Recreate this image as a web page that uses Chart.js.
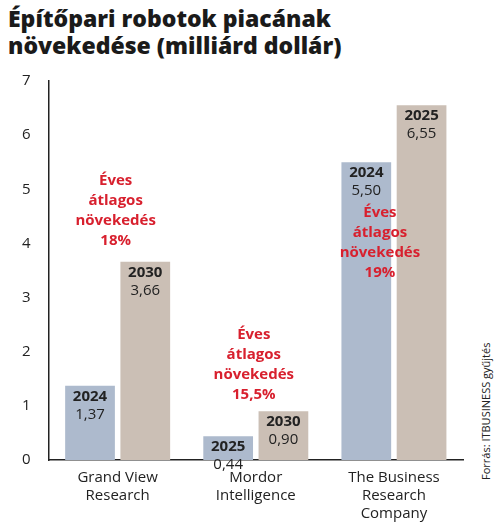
<!DOCTYPE html>
<html><head><meta charset="utf-8">
<script src="https://cdn.jsdelivr.net/npm/chart.js@4"></script>
<style>
body{margin:0;background:#fff;font-family:"Open Sans",sans-serif;}
h1{margin:0;position:absolute;left:8px;top:5px;font-size:23px;line-height:27px;font-weight:800;color:#1a1a1a;}
#wrap{position:absolute;left:0;top:62px;width:475px;height:462px;}
#src{position:absolute;left:478px;top:480px;transform-origin:0 0;transform:rotate(-90deg);font-size:11px;color:#222;white-space:nowrap;}
</style></head><body>
<h1>Építőpari robotok piacának<br>növekedése (milliárd dollár)</h1>
<div id="wrap"><canvas id="c"></canvas></div>
<div id="src">Forrás: ITBUSINESS gyűjtés</div>
<script>
const categories=[["Grand View","Research"],["Mordor","Intelligence"],["The Business","Research","Company"]];
const valuesA=[1.37,0.44,5.50];
const valuesB=[3.66,0.90,6.55];
const yearsA=["2024","2025","2024"];
const yearsB=["2030","2030","2025"];
const growth=["18%","15,5%","19%"];
const growthY=[5.3,2.45,4.7];
const yTicks=[0,1,2,3,4,5,6,7];
const fmt=v=>v.toFixed(2).replace('.',',');
const labels={id:'labels',afterDatasetsDraw(ch){
 const ctx=ch.ctx;ctx.save();ctx.textAlign='center';ctx.textBaseline='top';
 [[0,yearsA,valuesA],[1,yearsB,valuesB]].forEach(([d,yrs,vals])=>{
  ch.getDatasetMeta(d).data.forEach((b,i)=>{
   ctx.fillStyle='#222';ctx.font='bold 15px "Open Sans"';ctx.fillText(yrs[i],b.x,b.y+3);
   ctx.font='15px "Open Sans"';ctx.fillText(fmt(vals[i]),b.x,b.y+21);
  });});
 const y=ch.scales.y,x=ch.scales.x;
 ctx.fillStyle='#d8202e';ctx.font='bold 15px "Open Sans"';
 growth.forEach((g,i)=>{const cx=x.getPixelForValue(i)-(i==2?14:2);const ty=y.getPixelForValue(growthY[i]);
  ["Éves","átlagos","növekedés",g].forEach((t,k)=>ctx.fillText(t,cx,ty+k*20));});
 ctx.restore();}};
new Chart(document.getElementById('c'),{type:'bar',
 data:{labels:categories,datasets:[
  {data:valuesA,backgroundColor:'#adbacd'},
  {data:valuesB,backgroundColor:'#cbbfb5'}]},
 options:{responsive:true,maintainAspectRatio:false,animation:false,
  layout:{padding:{top:10,right:12,left:12}},
  plugins:{legend:{display:false},tooltip:{enabled:false}},
  datasets:{bar:{categoryPercentage:0.8,barPercentage:0.9}},
  scales:{
   x:{grid:{display:false},border:{color:'#222',width:1.5},ticks:{color:'#222',padding:1,font:{size:15,family:'"Open Sans"',lineHeight:1.2}}},
   y:{min:0,max:7,afterBuildTicks:a=>{a.ticks=yTicks.map(v=>({value:v}));},grid:{display:false},border:{color:'#222',width:1.5},
    ticks:{color:'#222',padding:10,font:{size:15,family:'"Open Sans"'}}}}},
 plugins:[labels]});
</script></body></html>
